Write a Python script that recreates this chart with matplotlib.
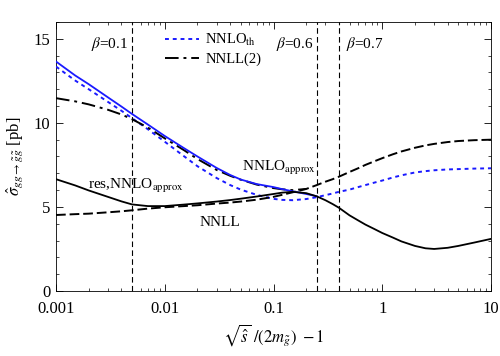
import matplotlib
matplotlib.use("Agg")
import matplotlib.pyplot as plt
from matplotlib.ticker import FixedLocator, FixedFormatter, LogLocator, MultipleLocator, NullFormatter

plt.rcParams['font.family'] = ['Liberation Serif', 'DejaVu Serif']
plt.rcParams['mathtext.fontset'] = 'stix'

# x grid (sqrt(s)/(2m) - 1)
x = [0.001, 0.0015, 0.002, 0.003, 0.004, 0.005, 0.007, 0.01, 0.015, 0.02, 0.03,
     0.04, 0.05, 0.07, 0.1, 0.12, 0.15, 0.2, 0.25, 0.3, 0.35, 0.4, 0.5, 0.6,
     0.7, 0.85, 1, 1.25, 1.5, 2, 2.5, 3, 4, 5, 7, 10]

res_nnlo = [6.65, 6.28, 5.98, 5.6, 5.33, 5.15, 5.05, 5.05, 5.14, 5.21, 5.32,
            5.41, 5.49, 5.62, 5.77, 5.85, 5.9, 5.82, 5.63, 5.4, 5.17, 4.95,
            4.5, 4.2, 3.95, 3.68, 3.45, 3.18, 2.95, 2.68, 2.54, 2.5, 2.57,
            2.68, 2.88, 3.1]

x_approx = [0.001, 0.0015, 0.002, 0.003, 0.004, 0.005, 0.007, 0.01, 0.015,
            0.02, 0.03, 0.04, 0.05, 0.07, 0.1, 0.12, 0.15, 0.2, 0.25]
nnlo_approx = [13.65, 12.82, 12.3, 11.52, 10.97, 10.53, 9.9, 9.22, 8.5, 8.0,
               7.32, 6.9, 6.63, 6.36, 6.18, 6.06, 5.93, 5.77, 5.63]

nnlo_th = [13.35, 12.52, 12.0, 11.25, 10.72, 10.28, 9.62, 8.88, 8.02, 7.42,
           6.72, 6.3, 6.03, 5.72, 5.48, 5.42, 5.4, 5.47, 5.58, 5.7, 5.8, 5.9,
           6.03, 6.18, 6.3, 6.45, 6.57, 6.75, 6.88, 7.05, 7.13, 7.18, 7.23,
           7.25, 7.28, 7.3]

nnll = [4.52, 4.57, 4.6, 4.68, 4.74, 4.8, 4.9, 4.98, 5.05, 5.1, 5.2, 5.26,
        5.32, 5.43, 5.6, 5.72, 5.87, 6.07, 6.3, 6.5, 6.65, 6.8, 7.08, 7.3,
        7.5, 7.72, 7.9, 8.13, 8.3, 8.52, 8.66, 8.75, 8.86, 8.92, 8.97, 9.0]

x_nnll2 = [0.001, 0.0015, 0.002, 0.003, 0.004, 0.005, 0.007, 0.01, 0.015,
           0.02, 0.03, 0.04, 0.05, 0.07, 0.1, 0.12, 0.15, 0.2]
nnll2 = [11.47, 11.28, 11.1, 10.78, 10.5, 10.22, 9.72, 9.08, 8.38, 7.85,
         7.2, 6.85, 6.62, 6.33, 6.12, 6.05, 6.0, 6.07]

beta_lines = [0.005038, 0.25, 0.4003]

xticks = [0.001, 0.01, 0.1, 1, 10]
xticklabels = ['0.001', '0.01', '0.1', '1', '10']
yticks = [0, 5, 10, 15]

fig = plt.figure(figsize=(5.0, 3.56), dpi=100)
ax = fig.add_axes([0.112, 0.1826, 0.870, 0.7556])

for xv in beta_lines:
    ax.axvline(xv, color='black', lw=0.8, ls=(0, (5, 3)), zorder=1)

ax.plot(x, nnlo_th, color='#1a1aff', lw=1.4, ls=(0, (2, 2)), label=r'NNLO$_{\rm th}$', zorder=3)
ax.plot(x_nnll2, nnll2, color='black', lw=1.4, ls=(0, (7, 2.5, 1.5, 2.5)), label='NNLL(2)', zorder=3)
ax.plot(x, nnll, color='black', lw=1.4, ls=(0, (5, 2)), zorder=3)
ax.plot(x_approx, nnlo_approx, color='#1a1aff', lw=1.3, zorder=4)
ax.plot(x, res_nnlo, color='black', lw=1.3, zorder=5)

ax.set_xscale('log')
ax.set_xlim(0.001, 10)
ax.set_ylim(0, 16)
ax.xaxis.set_major_locator(FixedLocator(xticks))
ax.xaxis.set_major_formatter(FixedFormatter(xticklabels))
ax.xaxis.set_minor_locator(LogLocator(base=10, subs=range(2, 10)))
ax.xaxis.set_minor_formatter(NullFormatter())
ax.yaxis.set_major_locator(FixedLocator(yticks))
ax.yaxis.set_minor_locator(MultipleLocator(1))
ax.tick_params(which='both', direction='in', top=True, right=True, labelsize=12)
ax.tick_params(which='major', length=5, width=0.6)
ax.tick_params(which='minor', length=2.5, width=0.5)
for s in ax.spines.values():
    s.set_linewidth(0.6)
ax.tick_params(axis='x', pad=7)
ax.tick_params(axis='y', pad=4)

ax.text(0.0046, 0.918, r'$\beta$=0.1', transform=ax.get_xaxis_transform(), ha='right', va='center', fontsize=11)
ax.text(0.232, 0.918, r'$\beta$=0.6', transform=ax.get_xaxis_transform(), ha='right', va='center', fontsize=11)
ax.text(0.46, 0.918, r'$\beta$=0.7', transform=ax.get_xaxis_transform(), ha='left', va='center', fontsize=11)
ax.text(0.0513, 7.3, r'NNLO$_{\rm approx}$', ha='left', va='center', fontsize=11)
ax.text(0.00197, 6.25, r'res,NNLO$_{\rm approx}$', ha='left', va='center', fontsize=11)
ax.text(0.0211, 4.1, 'NNLL', ha='left', va='center', fontsize=11)

ax.legend(loc='upper left', bbox_to_anchor=(0.238, 0.985), frameon=False, fontsize=10.5,
          handlelength=2.3, handletextpad=0.45, labelspacing=0.3, borderaxespad=0)

ax.set_ylabel(r'$\hat{\sigma}_{gg\rightarrow\tilde{g}\tilde{g}}$ [pb]', fontsize=12, labelpad=6)
ax.set_xlabel(r'$\sqrt{\hat{s}}\ /(2m_{\tilde{g}})\ -1$', fontsize=12, labelpad=4)

fig.savefig('out.png', dpi=100)
